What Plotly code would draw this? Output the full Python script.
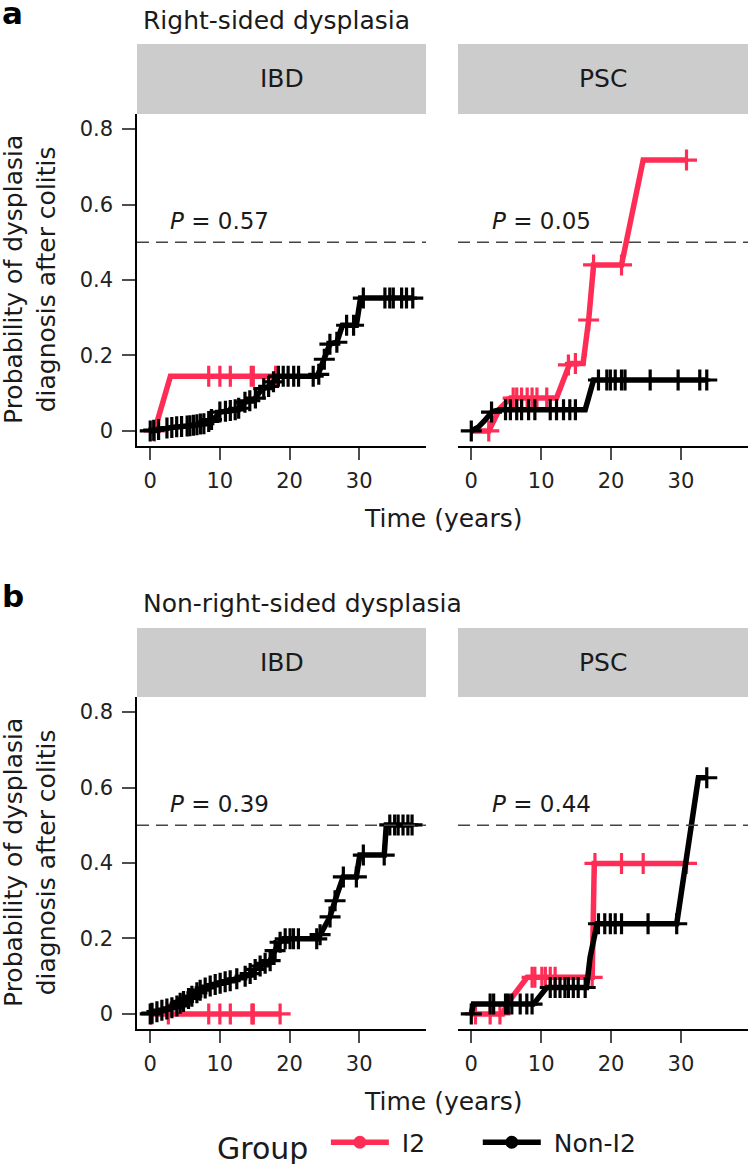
import plotly.graph_objects as go

W, H = 748, 1164
RED = "#FF2D55"
BLACK = "#000000"
FONT = "DejaVu Sans"

groups = ["I2", "Non-I2"]
facets = ["IBD", "PSC"]
panel_titles = ["Right-sided dysplasia", "Non-right-sided dysplasia"]
panel_letters = ["a", "b"]
p_values = [["0.57", "0.05"], ["0.39", "0.44"]]
threshold = 0.5
x_ticks = [0, 10, 20, 30]
y_ticks = [0, 0.2, 0.4, 0.6, 0.8]
y_ticktext = ["0", "0.2", "0.4", "0.6", "0.8"]

# ---- a: right-sided, IBD
a_ibd_i2_time = [0.0, 0.6, 2.9, 18.0]
a_ibd_i2_prob = [0.0, 0.0, 0.145, 0.145]
a_ibd_i2_cens_time = [0.6, 8.4, 10.0, 11.5, 14.5, 14.8, 18.0]
a_ibd_i2_cens_prob = [0.0, 0.145, 0.145, 0.145, 0.145, 0.145, 0.145]

a_ibd_non_time = [0.0, 1.5, 3.5, 6.0, 8.0, 9.3, 10.0, 12.5, 13.5, 15.0, 16.0, 17.3, 18.2,
                  24.0, 24.9, 25.8, 26.8, 27.6, 29.6, 30.2, 37.7]
a_ibd_non_prob = [0.0, 0.005, 0.010, 0.014, 0.020, 0.035, 0.050, 0.056, 0.075, 0.085, 0.110,
                  0.120, 0.145, 0.145, 0.188, 0.230, 0.235, 0.280, 0.280, 0.352, 0.352]
a_ibd_non_cens_time = [0.0, 0.5, 1.2, 2.4, 3.1, 3.8, 4.5, 5.3, 5.7, 6.2, 6.7, 7.2, 7.7, 8.4, 8.8,
                       10.0, 10.8, 11.5, 12.2, 12.7, 13.6, 14.3, 15.1, 16.3, 17.0, 17.7,
                       18.4, 19.1, 19.8, 20.6, 21.3, 23.4, 24.2, 25.0, 25.8, 26.8, 28.2, 29.2,
                       30.6, 33.7, 34.4, 34.9, 36.1, 36.8, 37.7]
a_ibd_non_cens_prob = [0.0, 0.002, 0.004, 0.008, 0.009, 0.011, 0.012, 0.013, 0.014, 0.015, 0.016,
                       0.018, 0.019, 0.025, 0.030, 0.050, 0.052, 0.054, 0.056, 0.060, 0.076,
                       0.080, 0.087, 0.112, 0.118, 0.130, 0.145, 0.145, 0.145, 0.145, 0.145,
                       0.145, 0.150, 0.190, 0.230, 0.235, 0.280, 0.280, 0.352, 0.352, 0.352,
                       0.352, 0.352, 0.352, 0.352]

# ---- a: right-sided, PSC
a_psc_i2_time = [0.0, 2.5, 4.1, 5.6, 12.2, 14.1, 16.0, 16.8, 17.5, 21.5, 24.6, 30.8]
a_psc_i2_prob = [0.0, 0.0, 0.060, 0.087, 0.087, 0.179, 0.179, 0.294, 0.440, 0.440, 0.718, 0.718]
a_psc_i2_cens_time = [2.5, 6.0, 6.5, 7.2, 8.0, 8.7, 9.4, 10.8, 13.9, 14.9, 16.8, 17.5, 21.5, 30.8]
a_psc_i2_cens_prob = [0.0, 0.087, 0.087, 0.087, 0.087, 0.087, 0.087, 0.087, 0.175, 0.179,
                      0.294, 0.440, 0.440, 0.718]

a_psc_non_time = [0.0, 1.0, 1.8, 3.0, 4.1, 16.3, 17.5, 33.7]
a_psc_non_prob = [0.0, 0.010, 0.025, 0.051, 0.056, 0.056, 0.135, 0.135]
a_psc_non_cens_time = [0.0, 2.9, 4.9, 5.6, 6.5, 7.2, 8.2, 9.1, 11.3, 12.2, 13.2, 14.1, 14.9,
                       18.2, 19.4, 19.9, 20.6, 21.5, 22.0, 25.6, 29.6, 32.7, 33.7]
a_psc_non_cens_prob = [0.0, 0.050, 0.056, 0.056, 0.056, 0.056, 0.056, 0.056, 0.056, 0.056,
                       0.056, 0.056, 0.056, 0.135, 0.135, 0.135, 0.135, 0.135, 0.135, 0.135,
                       0.135, 0.135, 0.135]

# ---- b: non-right-sided, IBD
b_ibd_i2_time = [0.0, 18.65]
b_ibd_i2_prob = [0.0, 0.0]
b_ibd_i2_cens_time = [0.24, 2.6, 8.4, 10.0, 11.5, 14.6, 14.8, 18.65]
b_ibd_i2_cens_prob = [0.0, 0.0, 0.0, 0.0, 0.0, 0.0, 0.0, 0.0]

b_ibd_non_time = [0.0, 1.9, 3.7, 5.7, 7.4, 9.3, 11.5, 13.9, 15.5, 17.2, 18.4, 19.1, 24.1,
                  25.8, 26.8, 27.7, 29.6, 30.1, 33.6, 33.9, 37.6]
b_ibd_non_prob = [0.0, 0.012, 0.020, 0.044, 0.066, 0.078, 0.088, 0.101, 0.124, 0.141, 0.186,
                  0.199, 0.199, 0.257, 0.315, 0.363, 0.363, 0.421, 0.421, 0.501, 0.501]
b_ibd_non_cens_time = [0.0, 0.24, 0.96, 1.67, 2.39, 3.11, 3.83, 4.30, 4.78, 5.50, 5.98, 6.70,
                       7.17, 7.89, 8.61, 9.33, 10.04, 10.76, 11.48, 12.43, 13.63, 14.35, 15.07,
                       15.78, 16.50, 17.22, 17.93, 18.65, 19.38, 20.08, 20.57, 21.28, 23.91,
                       24.39, 25.82, 26.54, 27.73, 29.6, 30.6, 33.6, 34.4, 35.1, 35.6, 36.3,
                       37.0, 37.6]
b_ibd_non_cens_prob = [0.0, 0.002, 0.006, 0.010, 0.013, 0.016, 0.021, 0.028, 0.033, 0.041,
                       0.047, 0.056, 0.063, 0.069, 0.074, 0.078, 0.081, 0.085, 0.088, 0.093,
                       0.100, 0.107, 0.118, 0.127, 0.134, 0.141, 0.168, 0.190, 0.199, 0.199,
                       0.199, 0.199, 0.199, 0.210, 0.257, 0.300, 0.363, 0.363, 0.421, 0.421,
                       0.501, 0.501, 0.501, 0.501, 0.501, 0.501]

# ---- b: non-right-sided, PSC
b_psc_i2_time = [0.0, 4.5, 5.1, 8.0, 17.3, 17.6, 30.8]
b_psc_i2_prob = [0.0, 0.0, 0.026, 0.097, 0.097, 0.399, 0.399]
b_psc_i2_cens_time = [0.6, 2.7, 4.1, 8.7, 9.1, 10.1, 10.6, 11.3, 12.0, 17.3, 17.7, 21.5, 24.6, 30.8]
b_psc_i2_cens_prob = [0.0, 0.0, 0.0, 0.097, 0.097, 0.097, 0.097, 0.097, 0.097, 0.097, 0.399,
                      0.399, 0.399, 0.399]

b_psc_non_time = [0.0, 0.3, 8.9, 10.8, 16.5, 17.0, 18.0, 29.4, 32.5, 33.7]
b_psc_non_prob = [0.0, 0.026, 0.026, 0.070, 0.070, 0.150, 0.239, 0.239, 0.626, 0.626]
b_psc_non_cens_time = [0.0, 2.7, 3.2, 4.9, 5.3, 5.8, 7.0, 7.95, 8.7, 11.3, 12.0, 12.7, 13.4,
                       13.9, 14.6, 15.3, 16.3, 18.2, 19.1, 19.9, 20.6, 21.5, 25.3, 29.4, 33.7]
b_psc_non_cens_prob = [0.0, 0.026, 0.026, 0.026, 0.026, 0.026, 0.026, 0.026, 0.026, 0.070,
                       0.070, 0.070, 0.070, 0.070, 0.070, 0.070, 0.070, 0.239, 0.239, 0.239,
                       0.239, 0.239, 0.239, 0.239, 0.626]

curves = [
    # (axis index, color, time, prob, censor time, censor prob)
    (1, RED, a_ibd_i2_time, a_ibd_i2_prob, a_ibd_i2_cens_time, a_ibd_i2_cens_prob),
    (1, BLACK, a_ibd_non_time, a_ibd_non_prob, a_ibd_non_cens_time, a_ibd_non_cens_prob),
    (2, RED, a_psc_i2_time, a_psc_i2_prob, a_psc_i2_cens_time, a_psc_i2_cens_prob),
    (2, BLACK, a_psc_non_time, a_psc_non_prob, a_psc_non_cens_time, a_psc_non_cens_prob),
    (3, RED, b_ibd_i2_time, b_ibd_i2_prob, b_ibd_i2_cens_time, b_ibd_i2_cens_prob),
    (3, BLACK, b_ibd_non_time, b_ibd_non_prob, b_ibd_non_cens_time, b_ibd_non_cens_prob),
    (4, RED, b_psc_i2_time, b_psc_i2_prob, b_psc_i2_cens_time, b_psc_i2_cens_prob),
    (4, BLACK, b_psc_non_time, b_psc_non_prob, b_psc_non_cens_time, b_psc_non_cens_prob),
]


def px(x):
    return x / W


def py(y):
    return 1 - y / H


fig = go.Figure()

for idx, color, t, p, ct, cp in curves:
    ax = "" if idx == 1 else str(idx)
    fig.add_trace(go.Scatter(
        x=t, y=p, mode="lines", xaxis="x" + ax, yaxis="y" + ax,
        line=dict(color=color, width=5.5), showlegend=False, hoverinfo="skip"))
    fig.add_trace(go.Scatter(
        x=ct, y=cp, mode="markers", xaxis="x" + ax, yaxis="y" + ax,
        marker=dict(symbol="cross-thin", size=15, color=color,
                    line=dict(color=color, width=3.2)),
        showlegend=False, hoverinfo="skip", cliponaxis=False))

# legend-only entries (non-breaking spaces keep the gaps of the original key)
NB = "\u00a0"
legend_names = [NB + groups[0] + NB * 6, NB + groups[1]]
for name, color in zip(legend_names, [RED, BLACK]):
    fig.add_trace(go.Scatter(
        x=[None], y=[None], mode="lines+markers", name=name,
        line=dict(color=color, width=5.5),
        marker=dict(symbol="circle", size=13, color=color)))

# panel geometry in pixels
col_x = [(137, 426), (458, 748)]
row_plot = [(114, 446), (697, 1029)]
row_strip = [(44, 114), (628, 697)]
row_shift = [0, 583]

axis_font = dict(family=FONT, size=21, color="#222222")
layout = {}
for r in range(2):
    for c in range(2):
        i = r * 2 + c + 1
        key = "" if i == 1 else str(i)
        layout["xaxis" + key] = dict(
            domain=[px(col_x[c][0]), px(col_x[c][1])], anchor="y" + key,
            range=[-1.9, 39.6], tickvals=x_ticks, ticks="outside", ticklen=12,
            tickwidth=1.5, tickcolor="#4d4d4d", showline=True, linecolor="#000000",
            linewidth=1.5, showgrid=False, zeroline=False, tickfont=axis_font,
            ticklabelstandoff=3, fixedrange=True)
        layout["yaxis" + key] = dict(
            domain=[py(row_plot[r][1]), py(row_plot[r][0])], anchor="x" + key,
            range=[-0.04, 0.84], tickvals=y_ticks, ticktext=y_ticktext,
            ticks="outside" if c == 0 else "", ticklen=13, tickwidth=1.5,
            tickcolor="#4d4d4d", showline=(c == 0), linecolor="#000000", linewidth=1.5,
            showticklabels=(c == 0), showgrid=False, zeroline=False, tickfont=axis_font,
            ticklabelstandoff=5, fixedrange=True)

shapes = []
annotations = []
for r in range(2):
    for c in range(2):
        i = r * 2 + c + 1
        key = "" if i == 1 else str(i)
        shapes.append(dict(
            type="rect", xref="paper", yref="paper",
            x0=px(col_x[c][0]), x1=px(col_x[c][1]),
            y0=py(row_strip[r][1]), y1=py(row_strip[r][0]),
            fillcolor="#CCCCCC", line=dict(width=0), layer="below"))
        annotations.append(dict(
            text=facets[c], xref="paper", yref="paper",
            x=px(sum(col_x[c]) / 2), y=py(sum(row_strip[r]) / 2),
            xanchor="center", yanchor="middle",
            showarrow=False, font=dict(family=FONT, size=25, color="#1a1a1a")))
        shapes.append(dict(
            type="line", xref="x" + key + " domain", yref="y" + key,
            x0=0, x1=1, y0=threshold, y1=threshold,
            line=dict(color="#444444", width=1.5, dash="12px,7px")))
        annotations.append(dict(
            text="<i>P</i> = " + p_values[r][c], xref="x" + key, yref="y" + key,
            x=10, y=0.556, xanchor="center", yanchor="middle", showarrow=False,
            font=dict(family=FONT, size=23, color="#1a1a1a")))
    s = row_shift[r]
    annotations.append(dict(
        text="<b>" + panel_letters[r] + "</b>", xref="paper", yref="paper",
        x=px(0), y=py(13 + s), xanchor="left", yanchor="middle", showarrow=False,
        font=dict(family=FONT, size=31, color="#000000")))
    annotations.append(dict(
        text=panel_titles[r], xref="paper", yref="paper",
        x=px(141), y=py(20 + s), xanchor="left", yanchor="middle", showarrow=False,
        font=dict(family=FONT, size=25, color="#1a1a1a")))
    annotations.append(dict(
        text="Probability of dysplasia<br>diagnosis after colitis",
        xref="paper", yref="paper", x=px(30), y=py(sum(row_plot[r]) / 2),
        xanchor="center", yanchor="middle",
        textangle=-90, showarrow=False,
        font=dict(family=FONT, size=25, color="#1a1a1a")))
    annotations.append(dict(
        text="Time (years)", xref="paper", yref="paper",
        x=px((137 + 748) / 2), y=py(518 + s), xanchor="center", yanchor="middle",
        showarrow=False, font=dict(family=FONT, size=25, color="#1a1a1a")))

fig.update_layout(
    width=W, height=H, margin=dict(l=0, r=0, t=0, b=0, autoexpand=False),
    paper_bgcolor="white", plot_bgcolor="white",
    font=dict(family=FONT, color="#1a1a1a"),
    shapes=shapes, annotations=annotations,
    legend=dict(orientation="h", x=px(428), xanchor="center", y=py(1144),
                yanchor="middle", font=dict(family=FONT, size=25, color="#1a1a1a"),
                title=dict(text="Group ", side="left"), itemwidth=58,
                bgcolor="rgba(0,0,0,0)"),
    **layout,
)

fig.write_html(
    "out.html",
    config={"displayModeBar": False},
    post_script="document.body.style.margin='0';document.body.style.overflow='hidden';",
)
